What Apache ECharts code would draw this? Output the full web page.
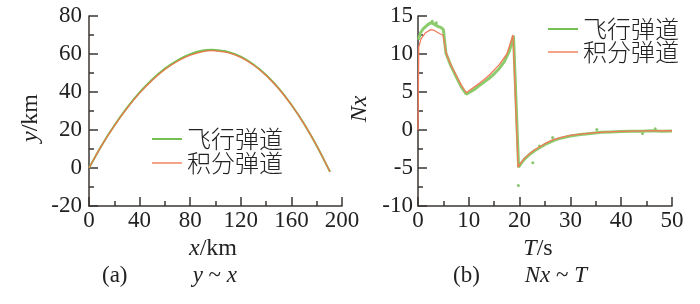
<!DOCTYPE html>
<html><head><meta charset="utf-8">
<script src="https://cdn.jsdelivr.net/npm/echarts@6/dist/echarts.min.js"></script>
<style>html,body{margin:0;padding:0;background:#fff}#c{width:700px;height:304px}</style>
</head><body><div id="c"></div>
<script>
// ---- Data ----
const seriesNames = ['飞行弹道', '积分弹道'];
// (a) y ~ x : trajectory, x in km, y in km
const trajX = [0, 10, 20, 30, 40, 50, 60, 70, 80, 90, 97, 100, 110, 120, 130, 140, 150, 160, 170, 180, 190, 190.5];
const flightY = [0, 11.9, 22.4, 31.7, 39.8, 46.6, 52.3, 56.7, 59.9, 61.8, 62.2, 62.1, 61.1, 58.6, 54.5, 49.0, 41.9, 33.3, 23.3, 11.7, -1.3, -2.0];
const integY  = [0, 11.8, 22.2, 31.4, 39.4, 46.2, 51.8, 56.2, 59.4, 61.3, 61.8, 61.7, 60.7, 58.2, 54.2, 48.7, 41.7, 33.2, 23.2, 11.7, -1.3, -2.0];
// (b) Nx ~ T
const flightT  = [0.1, 0.5, 1, 1.5, 2, 2.5, 3, 3.5, 4, 4.5, 5, 5.5, 6.5, 7.6, 8.5, 9.5, 10, 11, 12, 13, 14, 15, 16, 17, 18, 18.8, 19.8, 20.3, 21, 22, 23, 24, 25, 26, 27, 28, 30, 32, 34, 36, 38, 40, 42, 44, 46, 48, 50];
const flightNx = [11.9, 12.8, 13.3, 13.6, 13.9, 14.1, 14.0, 13.8, 13.6, 13.5, 13.2, 10.1, 8.4, 6.9, 5.7, 4.7, 4.9, 5.3, 5.8, 6.3, 6.8, 7.4, 8.1, 9.0, 10.4, 12.4, -4.9, -4.4, -3.8, -3.2, -2.7, -2.3, -1.9, -1.6, -1.3, -1.1, -0.8, -0.6, -0.45, -0.3, -0.25, -0.2, -0.15, -0.15, -0.1, -0.15, -0.12];
const flightDotsT  = [2.8, 3.6, 19.75, 22.6, 23.9, 26.5, 35.2, 44.2, 46.7];
const flightDotsNx = [14.3, 14.1, -7.3, -4.3, -2.1, -1.0, 0.05, -0.45, 0.15];
const integT  = [0, 0.15, 0.6, 1.5, 2.5, 3.2, 4.2, 4.9, 5.6, 6.5, 7.6, 8.5, 9.5, 10.5, 12, 14, 16, 17.5, 18.7, 19.7, 20.3, 21, 22, 23, 24, 25, 26.5, 28, 30, 32.5, 35, 37.5, 40, 45, 50];
const integNx = [0, 10.9, 12.0, 12.8, 13.2, 13.1, 12.7, 12.5, 10.0, 8.5, 7.1, 5.9, 4.9, 5.4, 6.1, 7.2, 8.6, 10.0, 12.5, -4.9, -4.3, -3.7, -3.1, -2.6, -2.2, -1.8, -1.3, -1.0, -0.7, -0.5, -0.35, -0.25, -0.17, -0.12, -0.1];
// tick labels
const xTicksA = [0, 40, 80, 120, 160, 200];
const yTicksA = [-20, 0, 20, 40, 60, 80];
const xTicksB = [0, 10, 20, 30, 40, 50];
const yTicksB = [-10, -5, 0, 5, 10, 15];

const zip = (a, b) => a.map((v, i) => [v, b[i]]);
const GREEN = '#74c052', ORANGE = '#f27a5a';
const serif = 'Liberation Serif';
const cjk = 'Noto Sans CJK SC';
const axisCol = '#3b3632';

function mkAxis(grid, ticks, isX, margin) {
  const interval = ticks[1] - ticks[0];
  return {
    type: 'value', gridIndex: grid, min: ticks[0], max: ticks[ticks.length - 1], interval: interval,
    axisLine: { show: true, onZero: false, lineStyle: { color: axisCol, width: 1.5 } },
    axisTick: { show: true, inside: true, length: 9, lineStyle: { color: axisCol, width: 1.5 } },
    minorTick: { show: true, splitNumber: 2, length: 5, lineStyle: { color: axisCol, width: 1.5 } },
    splitLine: { show: false },
    axisLabel: { show: true, fontFamily: serif, fontSize: 23, color: '#222', margin: margin,
      formatter: v => ticks.includes(v) ? String(v) : '' }
  };
}

function title(x, y, text, rot, size, align) {
  return { type: 'text', x: x, y: y, rotation: rot || 0,
    style: { text: text, fill: '#222', fontFamily: serif, fontSize: size, align: align || 'center', verticalAlign: 'middle',
      rich: { i: { fontStyle: 'italic', fontFamily: serif, fontSize: size, fill: '#222' },
              n: { fontFamily: serif, fontSize: size, fill: '#222' } } } };
}

const chart = echarts.init(document.getElementById('c'));
chart.setOption({
  animation: false,
  backgroundColor: '#fff',
  grid: [
    { left: 89, top: 16, width: 253, height: 190 },
    { left: 418, top: 16, width: 254, height: 190 }
  ],
  xAxis: [mkAxis(0, xTicksA, true, 3), mkAxis(1, xTicksB, true, 3)],
  yAxis: [mkAxis(0, yTicksA, false, 7), mkAxis(1, yTicksB, false, 5)],
  legend: [
    { orient: 'vertical', left: 147, top: 122, itemWidth: 30, itemHeight: 2, itemGap: 0,
      textStyle: { fontFamily: cjk, fontSize: 24, fontWeight: 300, color: '#222', lineHeight: 24 },
      data: [{ name: seriesNames[0], icon: 'rect', itemStyle: { color: GREEN } },
             { name: seriesNames[1], icon: 'rect', itemStyle: { color: '#f5a48a' } }] },
    { orient: 'vertical', left: 543, top: 12, itemWidth: 30, itemHeight: 2, itemGap: -1,
      textStyle: { fontFamily: cjk, fontSize: 24, fontWeight: 300, color: '#222', lineHeight: 24 },
      data: [{ name: seriesNames[0], icon: 'rect', itemStyle: { color: GREEN } },
             { name: seriesNames[1], icon: 'rect', itemStyle: { color: '#f5a48a' } }] }
  ],
  series: [
    { name: seriesNames[0], type: 'line', xAxisIndex: 0, yAxisIndex: 0, data: zip(trajX, flightY),
      smooth: 0.3, showSymbol: false, lineStyle: { color: GREEN, width: 2 }, itemStyle: { color: GREEN } },
    { name: seriesNames[1], type: 'line', xAxisIndex: 0, yAxisIndex: 0, data: zip(trajX, integY),
      smooth: 0.3, showSymbol: false, lineStyle: { color: '#e8784a', width: 1.3 }, itemStyle: { color: ORANGE } },
    { name: seriesNames[0], type: 'line', xAxisIndex: 1, yAxisIndex: 1, data: zip(flightT, flightNx),
      showSymbol: false, lineStyle: { color: '#8ccb6c', width: 3 }, itemStyle: { color: GREEN } },
    { name: seriesNames[0], type: 'scatter', xAxisIndex: 1, yAxisIndex: 1, data: zip(flightDotsT, flightDotsNx),
      symbolSize: 3, itemStyle: { color: '#6cb84a' } },
    { name: seriesNames[1], type: 'line', xAxisIndex: 1, yAxisIndex: 1, data: zip(integT, integNx),
      showSymbol: false, lineStyle: { color: ORANGE, width: 1.3 }, itemStyle: { color: ORANGE } }
  ],
  graphic: [
    title(31, 118, '{i|y}{n|/km}', Math.PI / 2, 24),
    title(213, 249, '{i|x}{n|/km}', 0, 24),
    title(102, 276, '{n|(a)}', 0, 23, 'left'),
    title(237, 276, '{i|y}{n| ~ }{i|x}', 0, 23, 'right'),
    title(360, 109, '{i|Nx}', Math.PI / 2, 24),
    title(538, 249, '{i|T}{n|/s}', 0, 24),
    title(453, 276, '{n|(b)}', 0, 23, 'left'),
    title(587, 276, '{i|Nx}{n| ~ }{i|T}', 0, 23, 'right')
  ]
});
</script></body></html>
